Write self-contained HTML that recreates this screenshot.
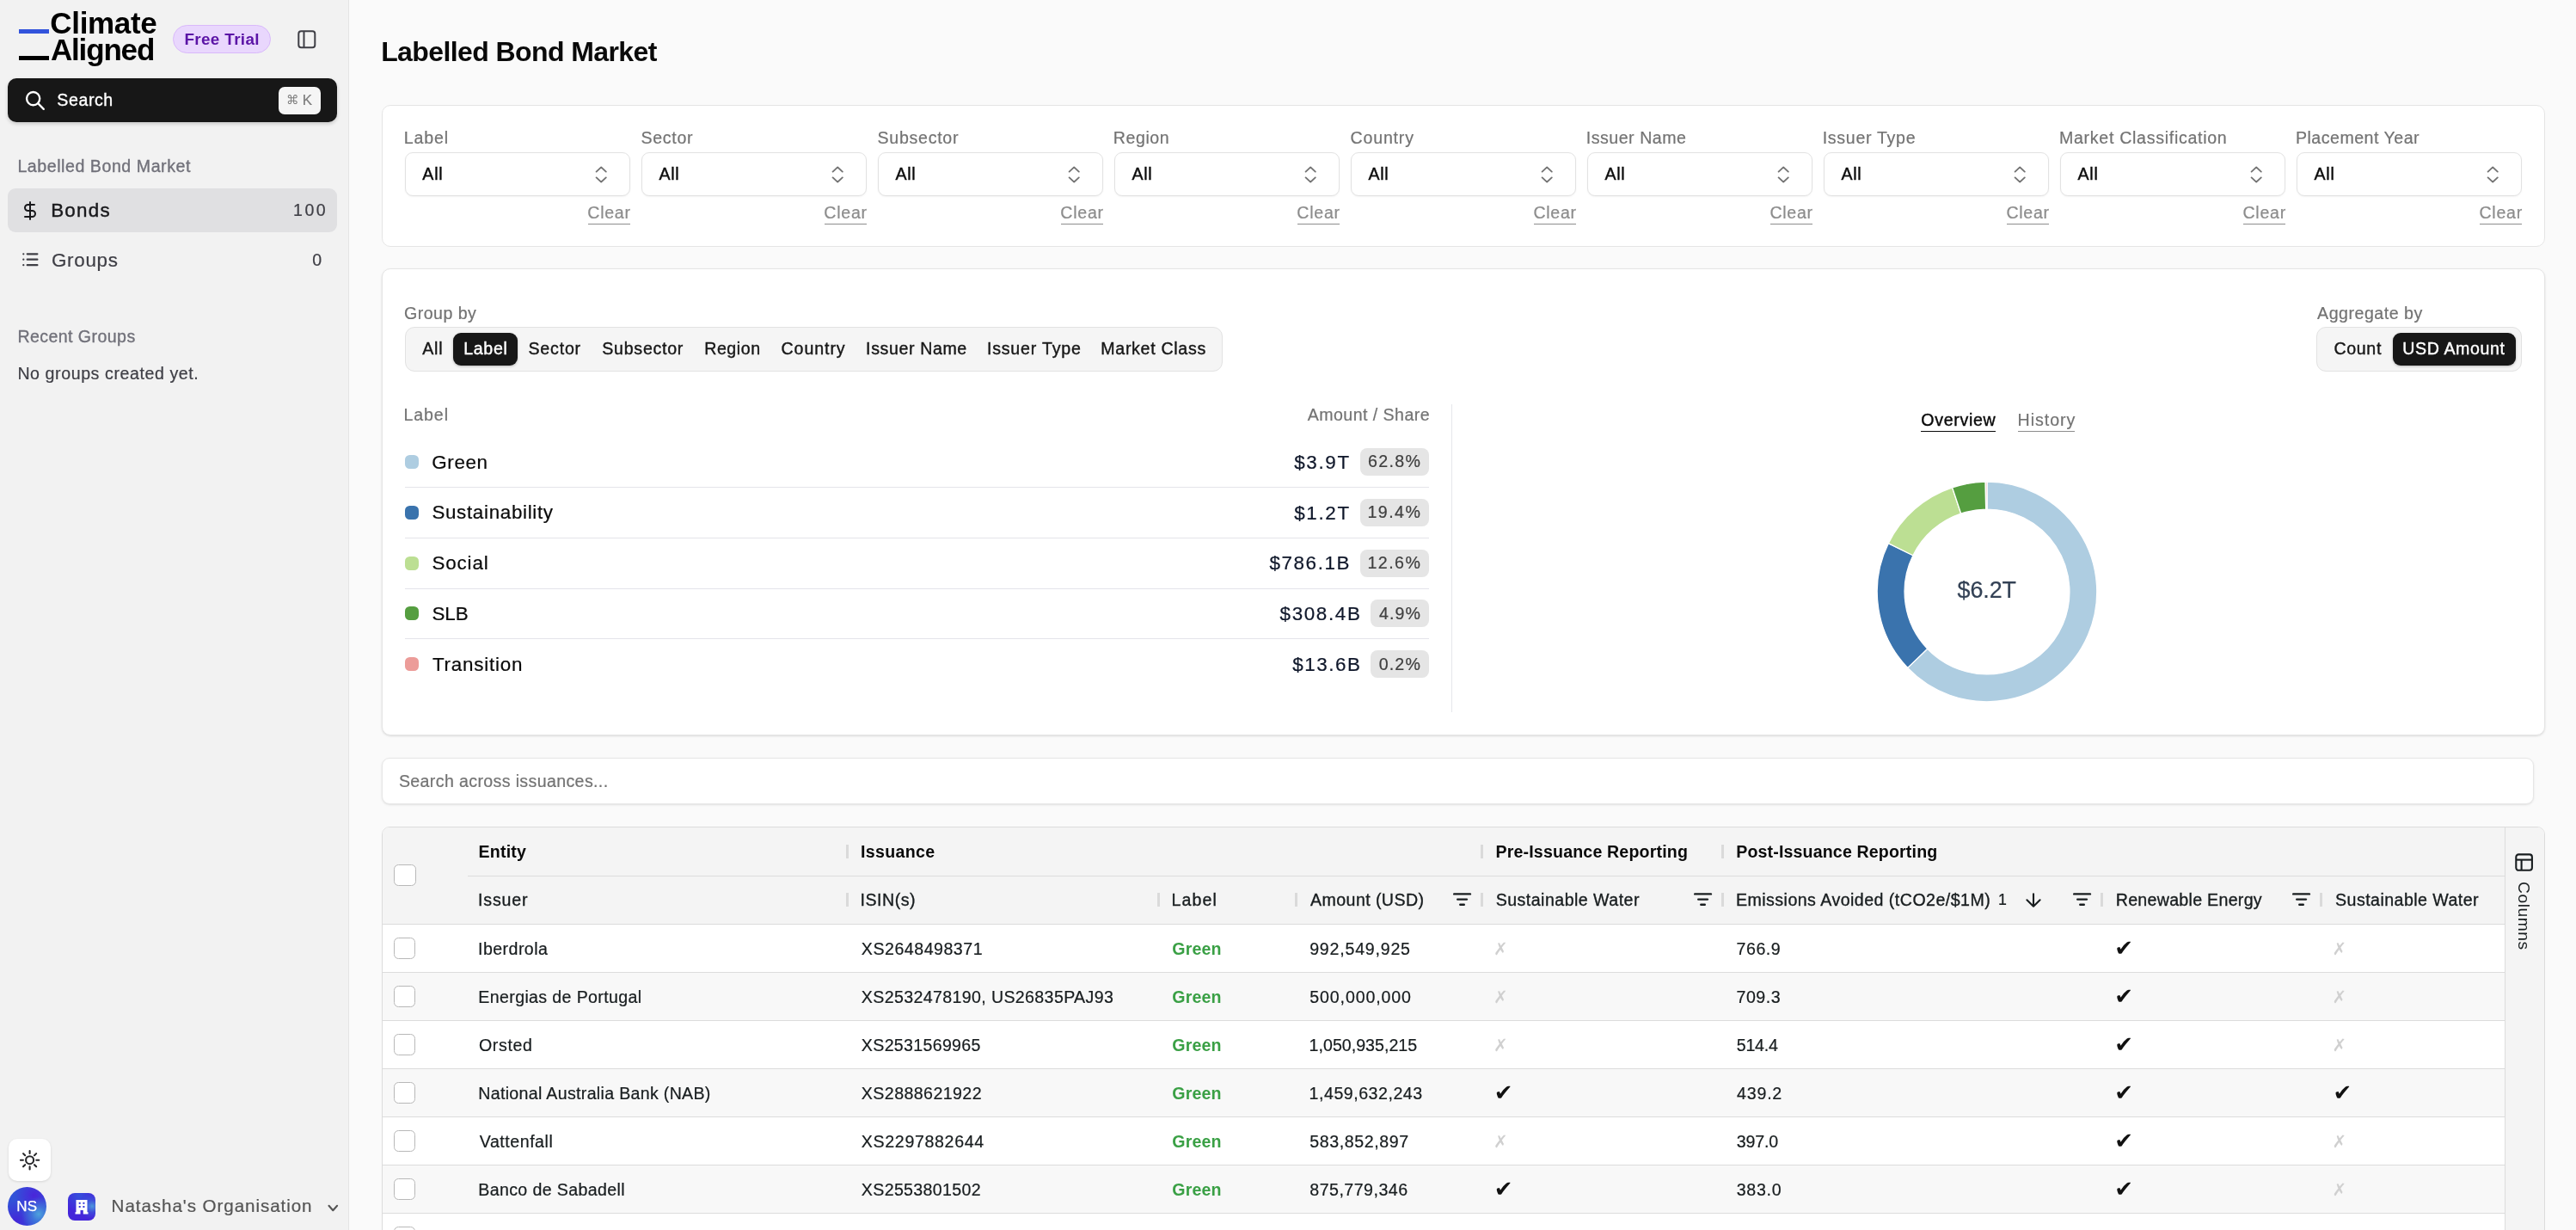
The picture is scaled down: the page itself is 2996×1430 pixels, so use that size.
<!DOCTYPE html>
<html lang="en"><head><meta charset="utf-8"><title>Labelled Bond Market</title>
<style>
html,body{margin:0;padding:0;}
html{width:2996px;height:1430px;overflow:hidden;}
body{width:2996px;height:1430px;overflow:hidden;position:relative;background:#fafafa;font-family:"Liberation Sans","DejaVu Sans",sans-serif;}
#root{position:absolute;left:0;top:0;width:2996px;height:1430px;overflow:hidden;will-change:transform;}
#root>div,#root>span,#root>svg{position:absolute;box-sizing:border-box;}
.t{white-space:nowrap;display:block;}
</style></head><body><div id="root">
<div style="left:0.00px;top:0.00px;width:405.00px;height:1430.00px;background:#f2f2f2;"></div>
<div style="left:405.00px;top:0.00px;width:1.00px;height:1430.00px;background:#e5e5e5;"></div>
<div style="left:22.00px;top:34.00px;width:35.30px;height:5.20px;background:#3354dc;"></div>
<div style="left:22.00px;top:65.00px;width:35.30px;height:5.20px;background:#000;"></div>
<span id="t0" class="t " style="left:58.36px;top:9.00px;font-size:35px;line-height:35px;color:#000;font-weight:700;letter-spacing:-0.351px;">Climate</span>
<span id="t1" class="t " style="left:58.93px;top:40.00px;font-size:35px;line-height:35px;color:#000;font-weight:700;letter-spacing:-1.158px;">Aligned</span>
<div style="left:201.00px;top:29.00px;width:114.00px;height:33.00px;border-radius:17px;background:#e9d7fd;border:1px solid #d9b9fb;"></div>
<span id="t2" class="t " style="left:214.44px;top:37.00px;font-size:18.9px;line-height:18.9px;color:#5b14a6;font-weight:700;letter-spacing:0.343px;">Free Trial</span>
<svg style="left:345px;top:34px" width="24" height="24" viewBox="0 0 24 24" fill="none" stroke="#3f3f46" stroke-width="2"><rect x="2.3" y="2.3" width="19" height="19" rx="3"/><line x1="8.5" y1="2.3" x2="8.5" y2="21.3"/></svg>
<div style="left:9.00px;top:91.00px;width:383.00px;height:51.00px;border-radius:10px;background:#171717;box-shadow:0 2px 4px rgba(0,0,0,.18);"></div>
<svg style="left:26px;top:102px" width="30" height="30" viewBox="0 0 30 30" fill="none" stroke="#fff" stroke-width="2.35" stroke-linecap="round"><circle cx="12.65" cy="12.6" r="7.6"/><line x1="18.2" y1="18.2" x2="24.8" y2="24.8"/></svg>
<span id="t3" class="t " style="left:66.31px;top:107.00px;font-size:19.6px;line-height:19.6px;color:#fff;letter-spacing:0.574px;-webkit-text-stroke:0.35px #fff;">Search</span>
<div style="left:324.00px;top:101.00px;width:49.00px;height:32.00px;border-radius:7px;background:#f5f5f5;"></div>
<span class="t" style="left:333.12px;top:109.00px;font-family:'DejaVu Sans';font-size:14.36px;line-height:14.36px;color:#7d7d7d;">⌘</span>
<span id="t4" class="t " style="left:351.81px;top:109.00px;font-size:16.9px;line-height:16.9px;color:#7d7d7d;-webkit-text-stroke:0.22px #7d7d7d;">K</span>
<span id="t5" class="t " style="left:20.39px;top:184.00px;font-size:19.6px;line-height:19.6px;color:#71717a;letter-spacing:0.549px;-webkit-text-stroke:0.35px #71717a;">Labelled Bond Market</span>
<div style="left:9.00px;top:219.00px;width:383.00px;height:51.00px;border-radius:9px;background:#e0e0e2;"></div>
<svg style="left:22.8px;top:232.6px" width="24" height="24" viewBox="0 0 24 24" fill="none" stroke="#18181b" stroke-width="2" stroke-linecap="round" stroke-linejoin="round"><line x1="12" y1="2" x2="12" y2="22"/><path d="M17 5H9.5a3.5 3.5 0 0 0 0 7h5a3.5 3.5 0 0 1 0 7H6"/></svg>
<span id="t6" class="t " style="left:59.16px;top:234.00px;font-size:22.4px;line-height:22.4px;color:#18181b;letter-spacing:1.262px;-webkit-text-stroke:0.4px #18181b;">Bonds</span>
<span id="t7" class="t " style="left:340.91px;top:235.00px;font-size:19.6px;line-height:19.6px;color:#3f3f46;letter-spacing:2.578px;-webkit-text-stroke:0.22px #3f3f46;">100</span>
<svg style="left:20px;top:288px" width="30" height="28" viewBox="0 0 30 28" fill="none" stroke="#3f3f46" stroke-width="2.2" stroke-linecap="round"><path d="M11.7 7.3H23.4M11.7 13.7H23.4M11.7 20.2H23.4M7.25 7.3h.1M7.25 13.7h.1M7.25 20.2h.1"/></svg>
<span id="t8" class="t " style="left:59.97px;top:292.00px;font-size:22.4px;line-height:22.4px;color:#3f3f46;letter-spacing:0.700px;-webkit-text-stroke:0.22px #3f3f46;">Groups</span>
<span id="t9" class="t " style="left:363.23px;top:293.00px;font-size:19.6px;line-height:19.6px;color:#3f3f46;-webkit-text-stroke:0.22px #3f3f46;">0</span>
<span id="t10" class="t " style="left:20.39px;top:382.00px;font-size:19.6px;line-height:19.6px;color:#71717a;letter-spacing:0.420px;-webkit-text-stroke:0.35px #71717a;">Recent Groups</span>
<span id="t11" class="t " style="left:20.39px;top:425.00px;font-size:19.6px;line-height:19.6px;color:#3f3f46;letter-spacing:0.579px;-webkit-text-stroke:0.22px #3f3f46;">No groups created yet.</span>
<div style="left:10.00px;top:1324.00px;width:49.00px;height:49.00px;border-radius:10px;background:#fff;box-shadow:0 1px 3px rgba(0,0,0,.12);"></div>
<svg style="left:21px;top:1335px" width="28" height="28" viewBox="0 0 28 28" fill="none" stroke="#27272a" stroke-width="2.1" stroke-linecap="round"><circle cx="13.6" cy="13.7" r="4.5"/><line x1="21.30" y1="13.70" x2="24.30" y2="13.70"/><line x1="19.04" y1="19.14" x2="21.17" y2="21.27"/><line x1="13.60" y1="21.40" x2="13.60" y2="24.40"/><line x1="8.16" y1="19.14" x2="6.03" y2="21.27"/><line x1="5.90" y1="13.70" x2="2.90" y2="13.70"/><line x1="8.16" y1="8.26" x2="6.03" y2="6.13"/><line x1="13.60" y1="6.00" x2="13.60" y2="3.00"/><line x1="19.04" y1="8.26" x2="21.17" y2="6.13"/></svg>
<div style="left:9.00px;top:1380.00px;width:45.00px;height:45.00px;border-radius:50%;background:radial-gradient(circle at 80% 70%,#4fa2dc 0%,rgba(70,140,220,.6) 18%,rgba(58,90,216,0) 42%),radial-gradient(circle at 68% 22%,#4a25da 0%,rgba(74,37,218,0) 48%),radial-gradient(circle at 22% 88%,#4427d8 0%,rgba(68,39,216,0) 45%),#3152d8;"></div>
<span id="t12" class="t " style="left:19.21px;top:1394.00px;font-size:17.0px;line-height:17.0px;color:#fff;letter-spacing:0.200px;-webkit-text-stroke:0.25px #fff;">NS</span>
<div style="left:79.00px;top:1387.00px;width:32.00px;height:32.00px;border-radius:8px;background:radial-gradient(circle at 88% 48%,#4c98dc 0%,rgba(60,110,220,.5) 22%,rgba(58,80,216,0) 45%),radial-gradient(circle at 40% 10%,#3550dc 0%,rgba(53,80,220,0) 55%),#4425da;"></div>
<svg style="left:86px;top:1393px" width="18" height="20" viewBox="0 0 18 20"><path fill="#fff" d="M2.5 2h13v14.2h1v2.2h-5.7v-4.4H7.5v4.4H1.5v-2.2h1z"/><g fill="#3a3adb"><rect x="5.7" y="4.8" width="2" height="2"/><rect x="10.4" y="4.8" width="2" height="2"/><rect x="5.7" y="9" width="2" height="2"/><rect x="10.4" y="9" width="2" height="2"/></g></svg>
<span id="t13" class="t " style="left:129.61px;top:1392.00px;font-size:20.6px;line-height:20.6px;color:#555;letter-spacing:0.929px;-webkit-text-stroke:0.22px #555;">Natasha&#x27;s Organisation</span>
<svg style="left:379.5px;top:1398.5px" width="15" height="12" viewBox="0 0 15 12" fill="none" stroke="#555" stroke-width="2.1" stroke-linecap="round" stroke-linejoin="round"><path d="M2.5 2.8 L7.3 8.2 L12.1 2.8"/></svg>
<span id="t14" class="t " style="left:443.16px;top:44.00px;font-size:32px;line-height:32px;color:#0a0a0a;font-weight:700;letter-spacing:-0.593px;">Labelled Bond Market</span>
<div style="left:444.00px;top:122.00px;width:2516.00px;height:165.00px;border-radius:10px;border:1px solid #e5e5e5;background:#fff;"></div>
<span id="t15" class="t " style="left:469.79px;top:151.00px;font-size:19.6px;line-height:19.6px;color:#737373;letter-spacing:0.841px;-webkit-text-stroke:0.22px #737373;">Label</span>
<div style="left:471.30px;top:177.00px;width:261.50px;height:51.00px;border-radius:9px;border:1px solid #e2e2e2;background:#fff;box-shadow:0 1px 2px rgba(0,0,0,.05);"></div>
<span id="t16" class="t " style="left:491.36px;top:193.00px;font-size:19.6px;line-height:19.6px;color:#0a0a0a;letter-spacing:0.734px;-webkit-text-stroke:0.4px #0a0a0a;">All</span>
<svg style="left:689.30px;top:190px" width="20" height="26" viewBox="0 0 20 26" fill="none" stroke="#737373" stroke-width="1.9" stroke-linecap="round" stroke-linejoin="round"><path d="M4.6 9.6 L10.2 4.4 L15.8 9.6"/><path d="M4.6 16.4 L10.2 21.6 L15.8 16.4"/></svg>
<span id="t17" class="t " style="left:683.30px;top:238.00px;font-size:19.6px;line-height:19.6px;color:#8c8c8c;letter-spacing:0.723px;-webkit-text-stroke:0.22px #8c8c8c;">Clear</span>
<div style="left:684.10px;top:259.60px;width:48.80px;height:1.40px;background:#8c8c8c;"></div>
<span id="t18" class="t " style="left:745.53px;top:151.00px;font-size:19.6px;line-height:19.6px;color:#737373;letter-spacing:0.671px;-webkit-text-stroke:0.22px #737373;">Sector</span>
<div style="left:746.32px;top:177.00px;width:261.50px;height:51.00px;border-radius:9px;border:1px solid #e2e2e2;background:#fff;box-shadow:0 1px 2px rgba(0,0,0,.05);"></div>
<span id="t19" class="t " style="left:766.38px;top:193.00px;font-size:19.6px;line-height:19.6px;color:#0a0a0a;letter-spacing:0.734px;-webkit-text-stroke:0.4px #0a0a0a;">All</span>
<svg style="left:964.32px;top:190px" width="20" height="26" viewBox="0 0 20 26" fill="none" stroke="#737373" stroke-width="1.9" stroke-linecap="round" stroke-linejoin="round"><path d="M4.6 9.6 L10.2 4.4 L15.8 9.6"/><path d="M4.6 16.4 L10.2 21.6 L15.8 16.4"/></svg>
<span id="t20" class="t " style="left:958.32px;top:238.00px;font-size:19.6px;line-height:19.6px;color:#8c8c8c;letter-spacing:0.723px;-webkit-text-stroke:0.22px #8c8c8c;">Clear</span>
<div style="left:959.12px;top:259.60px;width:48.80px;height:1.40px;background:#8c8c8c;"></div>
<span id="t21" class="t " style="left:1020.55px;top:151.00px;font-size:19.6px;line-height:19.6px;color:#737373;letter-spacing:0.705px;-webkit-text-stroke:0.22px #737373;">Subsector</span>
<div style="left:1021.34px;top:177.00px;width:261.50px;height:51.00px;border-radius:9px;border:1px solid #e2e2e2;background:#fff;box-shadow:0 1px 2px rgba(0,0,0,.05);"></div>
<span id="t22" class="t " style="left:1041.40px;top:193.00px;font-size:19.6px;line-height:19.6px;color:#0a0a0a;letter-spacing:0.734px;-webkit-text-stroke:0.4px #0a0a0a;">All</span>
<svg style="left:1239.34px;top:190px" width="20" height="26" viewBox="0 0 20 26" fill="none" stroke="#737373" stroke-width="1.9" stroke-linecap="round" stroke-linejoin="round"><path d="M4.6 9.6 L10.2 4.4 L15.8 9.6"/><path d="M4.6 16.4 L10.2 21.6 L15.8 16.4"/></svg>
<span id="t23" class="t " style="left:1233.34px;top:238.00px;font-size:19.6px;line-height:19.6px;color:#8c8c8c;letter-spacing:0.723px;-webkit-text-stroke:0.22px #8c8c8c;">Clear</span>
<div style="left:1234.14px;top:259.60px;width:48.80px;height:1.40px;background:#8c8c8c;"></div>
<span id="t24" class="t " style="left:1294.85px;top:151.00px;font-size:19.6px;line-height:19.6px;color:#737373;letter-spacing:0.545px;-webkit-text-stroke:0.22px #737373;">Region</span>
<div style="left:1296.36px;top:177.00px;width:261.50px;height:51.00px;border-radius:9px;border:1px solid #e2e2e2;background:#fff;box-shadow:0 1px 2px rgba(0,0,0,.05);"></div>
<span id="t25" class="t " style="left:1316.42px;top:193.00px;font-size:19.6px;line-height:19.6px;color:#0a0a0a;letter-spacing:0.734px;-webkit-text-stroke:0.4px #0a0a0a;">All</span>
<svg style="left:1514.36px;top:190px" width="20" height="26" viewBox="0 0 20 26" fill="none" stroke="#737373" stroke-width="1.9" stroke-linecap="round" stroke-linejoin="round"><path d="M4.6 9.6 L10.2 4.4 L15.8 9.6"/><path d="M4.6 16.4 L10.2 21.6 L15.8 16.4"/></svg>
<span id="t26" class="t " style="left:1508.36px;top:238.00px;font-size:19.6px;line-height:19.6px;color:#8c8c8c;letter-spacing:0.723px;-webkit-text-stroke:0.22px #8c8c8c;">Clear</span>
<div style="left:1509.16px;top:259.60px;width:48.80px;height:1.40px;background:#8c8c8c;"></div>
<span id="t27" class="t " style="left:1570.48px;top:151.00px;font-size:19.6px;line-height:19.6px;color:#737373;letter-spacing:0.824px;-webkit-text-stroke:0.22px #737373;">Country</span>
<div style="left:1571.38px;top:177.00px;width:261.50px;height:51.00px;border-radius:9px;border:1px solid #e2e2e2;background:#fff;box-shadow:0 1px 2px rgba(0,0,0,.05);"></div>
<span id="t28" class="t " style="left:1591.44px;top:193.00px;font-size:19.6px;line-height:19.6px;color:#0a0a0a;letter-spacing:0.734px;-webkit-text-stroke:0.4px #0a0a0a;">All</span>
<svg style="left:1789.38px;top:190px" width="20" height="26" viewBox="0 0 20 26" fill="none" stroke="#737373" stroke-width="1.9" stroke-linecap="round" stroke-linejoin="round"><path d="M4.6 9.6 L10.2 4.4 L15.8 9.6"/><path d="M4.6 16.4 L10.2 21.6 L15.8 16.4"/></svg>
<span id="t29" class="t " style="left:1783.38px;top:238.00px;font-size:19.6px;line-height:19.6px;color:#8c8c8c;letter-spacing:0.723px;-webkit-text-stroke:0.22px #8c8c8c;">Clear</span>
<div style="left:1784.18px;top:259.60px;width:48.80px;height:1.40px;background:#8c8c8c;"></div>
<span id="t30" class="t " style="left:1844.69px;top:151.00px;font-size:19.6px;line-height:19.6px;color:#737373;letter-spacing:0.520px;-webkit-text-stroke:0.22px #737373;">Issuer Name</span>
<div style="left:1846.40px;top:177.00px;width:261.50px;height:51.00px;border-radius:9px;border:1px solid #e2e2e2;background:#fff;box-shadow:0 1px 2px rgba(0,0,0,.05);"></div>
<span id="t31" class="t " style="left:1866.46px;top:193.00px;font-size:19.6px;line-height:19.6px;color:#0a0a0a;letter-spacing:0.734px;-webkit-text-stroke:0.4px #0a0a0a;">All</span>
<svg style="left:2064.40px;top:190px" width="20" height="26" viewBox="0 0 20 26" fill="none" stroke="#737373" stroke-width="1.9" stroke-linecap="round" stroke-linejoin="round"><path d="M4.6 9.6 L10.2 4.4 L15.8 9.6"/><path d="M4.6 16.4 L10.2 21.6 L15.8 16.4"/></svg>
<span id="t32" class="t " style="left:2058.40px;top:238.00px;font-size:19.6px;line-height:19.6px;color:#8c8c8c;letter-spacing:0.723px;-webkit-text-stroke:0.22px #8c8c8c;">Clear</span>
<div style="left:2059.20px;top:259.60px;width:48.80px;height:1.40px;background:#8c8c8c;"></div>
<span id="t33" class="t " style="left:2119.71px;top:151.00px;font-size:19.6px;line-height:19.6px;color:#737373;letter-spacing:0.692px;-webkit-text-stroke:0.22px #737373;">Issuer Type</span>
<div style="left:2121.42px;top:177.00px;width:261.50px;height:51.00px;border-radius:9px;border:1px solid #e2e2e2;background:#fff;box-shadow:0 1px 2px rgba(0,0,0,.05);"></div>
<span id="t34" class="t " style="left:2141.48px;top:193.00px;font-size:19.6px;line-height:19.6px;color:#0a0a0a;letter-spacing:0.734px;-webkit-text-stroke:0.4px #0a0a0a;">All</span>
<svg style="left:2339.42px;top:190px" width="20" height="26" viewBox="0 0 20 26" fill="none" stroke="#737373" stroke-width="1.9" stroke-linecap="round" stroke-linejoin="round"><path d="M4.6 9.6 L10.2 4.4 L15.8 9.6"/><path d="M4.6 16.4 L10.2 21.6 L15.8 16.4"/></svg>
<span id="t35" class="t " style="left:2333.42px;top:238.00px;font-size:19.6px;line-height:19.6px;color:#8c8c8c;letter-spacing:0.723px;-webkit-text-stroke:0.22px #8c8c8c;">Clear</span>
<div style="left:2334.22px;top:259.60px;width:48.80px;height:1.40px;background:#8c8c8c;"></div>
<span id="t36" class="t " style="left:2394.93px;top:151.00px;font-size:19.6px;line-height:19.6px;color:#737373;letter-spacing:0.704px;-webkit-text-stroke:0.22px #737373;">Market Classification</span>
<div style="left:2396.44px;top:177.00px;width:261.50px;height:51.00px;border-radius:9px;border:1px solid #e2e2e2;background:#fff;box-shadow:0 1px 2px rgba(0,0,0,.05);"></div>
<span id="t37" class="t " style="left:2416.50px;top:193.00px;font-size:19.6px;line-height:19.6px;color:#0a0a0a;letter-spacing:0.734px;-webkit-text-stroke:0.4px #0a0a0a;">All</span>
<svg style="left:2614.44px;top:190px" width="20" height="26" viewBox="0 0 20 26" fill="none" stroke="#737373" stroke-width="1.9" stroke-linecap="round" stroke-linejoin="round"><path d="M4.6 9.6 L10.2 4.4 L15.8 9.6"/><path d="M4.6 16.4 L10.2 21.6 L15.8 16.4"/></svg>
<span id="t38" class="t " style="left:2608.44px;top:238.00px;font-size:19.6px;line-height:19.6px;color:#8c8c8c;letter-spacing:0.723px;-webkit-text-stroke:0.22px #8c8c8c;">Clear</span>
<div style="left:2609.24px;top:259.60px;width:48.80px;height:1.40px;background:#8c8c8c;"></div>
<span id="t39" class="t " style="left:2669.95px;top:151.00px;font-size:19.6px;line-height:19.6px;color:#737373;letter-spacing:0.493px;-webkit-text-stroke:0.22px #737373;">Placement Year</span>
<div style="left:2671.46px;top:177.00px;width:261.50px;height:51.00px;border-radius:9px;border:1px solid #e2e2e2;background:#fff;box-shadow:0 1px 2px rgba(0,0,0,.05);"></div>
<span id="t40" class="t " style="left:2691.52px;top:193.00px;font-size:19.6px;line-height:19.6px;color:#0a0a0a;letter-spacing:0.734px;-webkit-text-stroke:0.4px #0a0a0a;">All</span>
<svg style="left:2889.46px;top:190px" width="20" height="26" viewBox="0 0 20 26" fill="none" stroke="#737373" stroke-width="1.9" stroke-linecap="round" stroke-linejoin="round"><path d="M4.6 9.6 L10.2 4.4 L15.8 9.6"/><path d="M4.6 16.4 L10.2 21.6 L15.8 16.4"/></svg>
<span id="t41" class="t " style="left:2883.46px;top:238.00px;font-size:19.6px;line-height:19.6px;color:#8c8c8c;letter-spacing:0.723px;-webkit-text-stroke:0.22px #8c8c8c;">Clear</span>
<div style="left:2884.26px;top:259.60px;width:48.80px;height:1.40px;background:#8c8c8c;"></div>
<div style="left:444.00px;top:312.00px;width:2516.00px;height:542.60px;border-radius:10px;border:1px solid #e5e5e5;background:#fff;box-shadow:0 1px 3px rgba(0,0,0,.09),0 1px 2px rgba(0,0,0,.05);"></div>
<span id="t42" class="t " style="left:470.01px;top:355.00px;font-size:19.6px;line-height:19.6px;color:#737373;letter-spacing:0.459px;-webkit-text-stroke:0.22px #737373;">Group by</span>
<div style="left:471.00px;top:380.00px;width:951.00px;height:52.00px;border-radius:11px;border:1px solid #e2e2e2;background:#f5f5f5;"></div>
<div style="left:527.00px;top:387.00px;width:75.00px;height:38.00px;border-radius:9px;background:#171717;box-shadow:0 1px 3px rgba(0,0,0,.25);"></div>
<span id="t43" class="t " style="left:491.36px;top:396.00px;font-size:19.6px;line-height:19.6px;color:#171717;letter-spacing:0.684px;-webkit-text-stroke:0.4px #171717;">All</span>
<span id="t44" class="t " style="left:539.19px;top:396.00px;font-size:19.6px;line-height:19.6px;color:#fff;letter-spacing:0.691px;-webkit-text-stroke:0.4px #fff;">Label</span>
<span id="t45" class="t " style="left:614.51px;top:396.00px;font-size:19.6px;line-height:19.6px;color:#171717;letter-spacing:0.795px;-webkit-text-stroke:0.4px #171717;">Sector</span>
<span id="t46" class="t " style="left:700.31px;top:396.00px;font-size:19.6px;line-height:19.6px;color:#171717;letter-spacing:0.735px;-webkit-text-stroke:0.4px #171717;">Subsector</span>
<span id="t47" class="t " style="left:819.19px;top:396.00px;font-size:19.6px;line-height:19.6px;color:#171717;letter-spacing:0.557px;-webkit-text-stroke:0.4px #171717;">Region</span>
<span id="t48" class="t " style="left:908.50px;top:396.00px;font-size:19.6px;line-height:19.6px;color:#171717;letter-spacing:0.921px;-webkit-text-stroke:0.4px #171717;">Country</span>
<span id="t49" class="t " style="left:1007.09px;top:396.00px;font-size:19.6px;line-height:19.6px;color:#171717;letter-spacing:0.610px;-webkit-text-stroke:0.4px #171717;">Issuer Name</span>
<span id="t50" class="t " style="left:1147.89px;top:396.00px;font-size:19.6px;line-height:19.6px;color:#171717;letter-spacing:0.814px;-webkit-text-stroke:0.4px #171717;">Issuer Type</span>
<span id="t51" class="t " style="left:1280.29px;top:396.00px;font-size:19.6px;line-height:19.6px;color:#171717;letter-spacing:0.690px;-webkit-text-stroke:0.4px #171717;">Market Class</span>
<span id="t52" class="t " style="left:2695.06px;top:355.00px;font-size:19.6px;line-height:19.6px;color:#737373;letter-spacing:0.510px;-webkit-text-stroke:0.22px #737373;">Aggregate by</span>
<div style="left:2694.00px;top:380.00px;width:238.80px;height:52.00px;border-radius:11px;border:1px solid #e2e2e2;background:#f5f5f5;"></div>
<div style="left:2783.00px;top:387.00px;width:142.50px;height:38.00px;border-radius:9px;background:#171717;box-shadow:0 1px 3px rgba(0,0,0,.25);"></div>
<span id="t53" class="t " style="left:2714.60px;top:396.00px;font-size:19.6px;line-height:19.6px;color:#171717;letter-spacing:0.610px;-webkit-text-stroke:0.4px #171717;">Count</span>
<span id="t54" class="t " style="left:2794.29px;top:396.00px;font-size:19.6px;line-height:19.6px;color:#fff;letter-spacing:0.599px;-webkit-text-stroke:0.4px #fff;">USD Amount</span>
<span id="t55" class="t " style="left:469.39px;top:473.00px;font-size:19.6px;line-height:19.6px;color:#737373;letter-spacing:0.916px;-webkit-text-stroke:0.22px #737373;">Label</span>
<span id="t56" class="t " style="left:1520.66px;top:473.00px;font-size:19.6px;line-height:19.6px;color:#737373;letter-spacing:0.450px;-webkit-text-stroke:0.22px #737373;">Amount / Share</span>
<div style="left:1688.00px;top:470.00px;width:1.00px;height:357.50px;background:#e5e7eb;"></div>
<div style="left:471.00px;top:529.00px;width:16.00px;height:16.00px;border-radius:5.5px;background:#aecde1;"></div>
<span id="t57" class="t " style="left:502.27px;top:527.00px;font-size:22.4px;line-height:22.4px;color:#0a0a0a;letter-spacing:0.637px;-webkit-text-stroke:0.22px #0a0a0a;">Green</span>
<span id="t58" class="t " style="left:1505.26px;top:527.00px;font-size:22.4px;line-height:22.4px;color:#0f172a;letter-spacing:1.647px;-webkit-text-stroke:0.22px #0f172a;">$3.9T</span>
<div style="left:1582.00px;top:521.00px;width:79.80px;height:32.00px;border-radius:8px;background:#e5e5e5;"></div>
<span id="t59" class="t " style="left:1590.90px;top:527.00px;font-size:19.6px;line-height:19.6px;color:#404040;letter-spacing:1.358px;-webkit-text-stroke:0.22px #404040;">62.8%</span>
<div style="left:471.00px;top:566.00px;width:1190.80px;height:1.00px;background:#e4e4ea;"></div>
<div style="left:471.00px;top:587.83px;width:16.00px;height:16.00px;border-radius:5.5px;background:#3a73ad;"></div>
<span id="t60" class="t " style="left:502.38px;top:585.00px;font-size:22.4px;line-height:22.4px;color:#0a0a0a;letter-spacing:0.671px;-webkit-text-stroke:0.22px #0a0a0a;">Sustainability</span>
<span id="t61" class="t " style="left:1505.26px;top:586.00px;font-size:22.4px;line-height:22.4px;color:#0f172a;letter-spacing:1.647px;-webkit-text-stroke:0.22px #0f172a;">$1.2T</span>
<div style="left:1582.00px;top:579.83px;width:79.80px;height:32.00px;border-radius:8px;background:#e5e5e5;"></div>
<span id="t62" class="t " style="left:1590.41px;top:586.00px;font-size:19.6px;line-height:19.6px;color:#404040;letter-spacing:1.482px;-webkit-text-stroke:0.22px #404040;">19.4%</span>
<div style="left:471.00px;top:624.83px;width:1190.80px;height:1.00px;background:#e4e4ea;"></div>
<div style="left:471.00px;top:646.66px;width:16.00px;height:16.00px;border-radius:5.5px;background:#bcdf93;"></div>
<span id="t63" class="t " style="left:502.38px;top:644.00px;font-size:22.4px;line-height:22.4px;color:#0a0a0a;letter-spacing:0.886px;-webkit-text-stroke:0.22px #0a0a0a;">Social</span>
<span id="t64" class="t " style="left:1476.46px;top:644.00px;font-size:22.4px;line-height:22.4px;color:#0f172a;letter-spacing:1.600px;-webkit-text-stroke:0.22px #0f172a;">$786.1B</span>
<div style="left:1582.00px;top:638.66px;width:79.80px;height:32.00px;border-radius:8px;background:#e5e5e5;"></div>
<span id="t65" class="t " style="left:1590.41px;top:645.00px;font-size:19.6px;line-height:19.6px;color:#404040;letter-spacing:1.482px;-webkit-text-stroke:0.22px #404040;">12.6%</span>
<div style="left:471.00px;top:683.66px;width:1190.80px;height:1.00px;background:#e4e4ea;"></div>
<div style="left:471.00px;top:705.49px;width:16.00px;height:16.00px;border-radius:5.5px;background:#559e40;"></div>
<span id="t66" class="t " style="left:502.38px;top:703.00px;font-size:22.4px;line-height:22.4px;color:#0a0a0a;letter-spacing:0.035px;-webkit-text-stroke:0.22px #0a0a0a;">SLB</span>
<span id="t67" class="t " style="left:1488.56px;top:703.00px;font-size:22.4px;line-height:22.4px;color:#0f172a;letter-spacing:1.650px;-webkit-text-stroke:0.22px #0f172a;">$308.4B</span>
<div style="left:1594.30px;top:697.49px;width:67.50px;height:32.00px;border-radius:8px;background:#e5e5e5;"></div>
<span id="t68" class="t " style="left:1603.95px;top:704.00px;font-size:19.6px;line-height:19.6px;color:#404040;letter-spacing:1.092px;-webkit-text-stroke:0.22px #404040;">4.9%</span>
<div style="left:471.00px;top:742.49px;width:1190.80px;height:1.00px;background:#e4e4ea;"></div>
<div style="left:471.00px;top:764.32px;width:16.00px;height:16.00px;border-radius:5.5px;background:#ec9c99;"></div>
<span id="t69" class="t " style="left:502.90px;top:762.00px;font-size:22.4px;line-height:22.4px;color:#0a0a0a;letter-spacing:0.797px;-webkit-text-stroke:0.22px #0a0a0a;">Transition</span>
<span id="t70" class="t " style="left:1503.16px;top:762.00px;font-size:22.4px;line-height:22.4px;color:#0f172a;letter-spacing:1.551px;-webkit-text-stroke:0.22px #0f172a;">$13.6B</span>
<div style="left:1594.30px;top:756.32px;width:67.50px;height:32.00px;border-radius:8px;background:#e5e5e5;"></div>
<span id="t71" class="t " style="left:1603.63px;top:763.00px;font-size:19.6px;line-height:19.6px;color:#404040;letter-spacing:1.197px;-webkit-text-stroke:0.22px #404040;">0.2%</span>
<span id="t72" class="t " style="left:2234.27px;top:479.00px;font-size:19.6px;line-height:19.6px;color:#0a0a0a;letter-spacing:0.673px;-webkit-text-stroke:0.4px #0a0a0a;">Overview</span>
<div style="left:2234.30px;top:501.00px;width:87.00px;height:1.40px;background:#0a0a0a;"></div>
<span id="t73" class="t " style="left:2346.59px;top:479.00px;font-size:19.6px;line-height:19.6px;color:#737373;letter-spacing:0.963px;-webkit-text-stroke:0.22px #737373;">History</span>
<div style="left:2347.30px;top:501.00px;width:66.20px;height:1.40px;background:#8c8c8c;"></div>
<svg style="left:2161px;top:537.7px" width="300" height="300" viewBox="0 0 300 300"><path d="M150.00 22.20A127.8 127.8 0 1 1 57.66 238.36L80.71 216.30A95.9 95.9 0 1 0 150.00 54.10Z" fill="#aecde1" stroke="#fff" stroke-width="1.3"/><path d="M57.66 238.36A127.8 127.8 0 0 1 35.29 93.66L63.92 107.72A95.9 95.9 0 0 0 80.71 216.30Z" fill="#3a73ad" stroke="#fff" stroke-width="1.3"/><path d="M35.29 93.66A127.8 127.8 0 0 1 109.56 28.77L119.66 59.03A95.9 95.9 0 0 0 63.92 107.72Z" fill="#bcdf93" stroke="#fff" stroke-width="1.3"/><path d="M109.56 28.77A127.8 127.8 0 0 1 148.23 22.21L148.67 54.11A95.9 95.9 0 0 0 119.66 59.03Z" fill="#559e40" stroke="#fff" stroke-width="1.3"/><path d="M148.23 22.21A127.8 127.8 0 0 1 150.00 22.20L150.00 54.10A95.9 95.9 0 0 0 148.67 54.11Z" fill="#ec9c99" stroke="#fff" stroke-width="1.3"/></svg>
<span id="t74" class="t " style="left:2276.61px;top:673.00px;font-size:26.9px;line-height:26.9px;color:#334155;letter-spacing:-0.090px;-webkit-text-stroke:0.22px #334155;">$6.2T</span>
<div style="left:444.00px;top:881.00px;width:2502.50px;height:54.00px;border-radius:9px;border:1px solid #e6e6e6;background:#fff;box-shadow:0 1px 3px rgba(0,0,0,.08),0 1px 2px rgba(0,0,0,.04);"></div>
<span id="t75" class="t " style="left:463.91px;top:899.00px;font-size:19.6px;line-height:19.6px;color:#737373;letter-spacing:0.362px;-webkit-text-stroke:0.22px #737373;">Search across issuances...</span>
<div style="left:444.00px;top:961.00px;width:2516.00px;height:500.00px;border-radius:9px 9px 0 0;border:1px solid #dcdcdc;background:#fff;overflow:hidden;"></div>
<div style="left:445.00px;top:962.00px;width:2468.00px;height:112.50px;background:#f4f4f4;border-top-left-radius:8px;"></div>
<div style="left:2913.00px;top:962.00px;width:46.00px;height:480.00px;background:#f4f4f4;border-left:1px solid #dcdcdc;border-top-right-radius:8px;"></div>
<div style="left:544.00px;top:1018.00px;width:2369.00px;height:1.00px;background:#dcdcdc;"></div>
<div style="left:445.00px;top:1074.00px;width:2468.00px;height:1.00px;background:#dcdcdc;"></div>
<span id="t76" class="t " style="left:556.59px;top:981.00px;font-size:19.6px;line-height:19.6px;color:#0a0a0a;font-weight:700;letter-spacing:0.176px;">Entity</span>
<span id="t77" class="t " style="left:1000.99px;top:981.00px;font-size:19.6px;line-height:19.6px;color:#0a0a0a;font-weight:700;letter-spacing:0.344px;">Issuance</span>
<span id="t78" class="t " style="left:1739.49px;top:981.00px;font-size:19.6px;line-height:19.6px;color:#0a0a0a;font-weight:700;letter-spacing:0.165px;">Pre-Issuance Reporting</span>
<span id="t79" class="t " style="left:2019.19px;top:981.00px;font-size:19.6px;line-height:19.6px;color:#0a0a0a;font-weight:700;letter-spacing:0.146px;">Post-Issuance Reporting</span>
<span id="t80" class="t " style="left:556.09px;top:1037.00px;font-size:19.6px;line-height:19.6px;color:#181d1f;letter-spacing:0.815px;-webkit-text-stroke:0.35px #181d1f;">Issuer</span>
<span id="t81" class="t " style="left:1000.49px;top:1037.00px;font-size:19.6px;line-height:19.6px;color:#181d1f;letter-spacing:0.529px;-webkit-text-stroke:0.35px #181d1f;">ISIN(s)</span>
<span id="t82" class="t " style="left:1362.49px;top:1037.00px;font-size:19.6px;line-height:19.6px;color:#181d1f;letter-spacing:1.116px;-webkit-text-stroke:0.35px #181d1f;">Label</span>
<span id="t83" class="t " style="left:1524.06px;top:1037.00px;font-size:19.6px;line-height:19.6px;color:#181d1f;letter-spacing:0.415px;-webkit-text-stroke:0.35px #181d1f;">Amount (USD)</span>
<span id="t84" class="t " style="left:1739.71px;top:1037.00px;font-size:19.6px;line-height:19.6px;color:#181d1f;letter-spacing:0.459px;-webkit-text-stroke:0.35px #181d1f;">Sustainable Water</span>
<span id="t85" class="t " style="left:2018.89px;top:1037.00px;font-size:19.6px;line-height:19.6px;color:#181d1f;letter-spacing:0.469px;-webkit-text-stroke:0.35px #181d1f;">Emissions Avoided (tCO2e/$1M)</span>
<span id="t86" class="t " style="left:2460.69px;top:1037.00px;font-size:19.6px;line-height:19.6px;color:#181d1f;letter-spacing:0.292px;-webkit-text-stroke:0.35px #181d1f;">Renewable Energy</span>
<span id="t87" class="t " style="left:2716.11px;top:1037.00px;font-size:19.6px;line-height:19.6px;color:#181d1f;letter-spacing:0.446px;-webkit-text-stroke:0.35px #181d1f;">Sustainable Water</span>
<span id="t88" class="t " style="left:2323.94px;top:1038.00px;font-size:17.8px;line-height:17.8px;color:#181d1f;-webkit-text-stroke:0.22px #181d1f;">1</span>
<div style="left:984.00px;top:982.00px;width:2.90px;height:15.50px;background:#dadada;"></div>
<div style="left:1722.00px;top:982.00px;width:2.90px;height:15.50px;background:#dadada;"></div>
<div style="left:2002.00px;top:982.00px;width:2.90px;height:15.50px;background:#dadada;"></div>
<div style="left:984.00px;top:1038.20px;width:2.90px;height:15.50px;background:#dadada;"></div>
<div style="left:1346.00px;top:1038.20px;width:2.90px;height:15.50px;background:#dadada;"></div>
<div style="left:1506.20px;top:1038.20px;width:2.90px;height:15.50px;background:#dadada;"></div>
<div style="left:1722.00px;top:1038.20px;width:2.90px;height:15.50px;background:#dadada;"></div>
<div style="left:2002.00px;top:1038.20px;width:2.90px;height:15.50px;background:#dadada;"></div>
<div style="left:2443.30px;top:1038.20px;width:2.90px;height:15.50px;background:#dadada;"></div>
<div style="left:2698.00px;top:1038.20px;width:2.90px;height:15.50px;background:#dadada;"></div>
<svg style="left:1689.7px;top:1037px" width="22" height="17" viewBox="0 0 22 17" fill="#181d1f"><rect x="0" y="1.2" width="21.1" height="2.4" rx="1.2"/><rect x="4" y="7.4" width="13.1" height="2.4" rx="1.2"/><rect x="7.1" y="13.6" width="6.9" height="2.4" rx="1.2"/></svg>
<svg style="left:1970.2px;top:1037px" width="22" height="17" viewBox="0 0 22 17" fill="#181d1f"><rect x="0" y="1.2" width="21.1" height="2.4" rx="1.2"/><rect x="4" y="7.4" width="13.1" height="2.4" rx="1.2"/><rect x="7.1" y="13.6" width="6.9" height="2.4" rx="1.2"/></svg>
<svg style="left:2411.3px;top:1037px" width="22" height="17" viewBox="0 0 22 17" fill="#181d1f"><rect x="0" y="1.2" width="21.1" height="2.4" rx="1.2"/><rect x="4" y="7.4" width="13.1" height="2.4" rx="1.2"/><rect x="7.1" y="13.6" width="6.9" height="2.4" rx="1.2"/></svg>
<svg style="left:2666px;top:1037px" width="22" height="17" viewBox="0 0 22 17" fill="#181d1f"><rect x="0" y="1.2" width="21.1" height="2.4" rx="1.2"/><rect x="4" y="7.4" width="13.1" height="2.4" rx="1.2"/><rect x="7.1" y="13.6" width="6.9" height="2.4" rx="1.2"/></svg>
<svg style="left:2353.5px;top:1035.5px" width="22" height="21" viewBox="0 0 22 21" fill="none" stroke="#181d1f" stroke-width="2.1" stroke-linecap="round" stroke-linejoin="round"><path d="M11 3.2V17.5M3.4 10.3 L11 17.7 L18.6 10.3"/></svg>
<div style="left:458.30px;top:1005.20px;width:25.30px;height:24.80px;border-radius:5.5px;border:1.3px solid #b8b8b8;background:#fff;"></div>
<svg style="left:2924px;top:991px" width="24" height="24" viewBox="0 0 24 24" fill="none" stroke="#181d1f" stroke-width="2.1" stroke-linejoin="round"><rect x="2.3" y="2.4" width="18.6" height="18.4" rx="3"/><line x1="2.3" y1="8.6" x2="20.9" y2="8.6"/><line x1="8.6" y1="8.6" x2="8.6" y2="20.8"/></svg>
<span class="t" id="colsv" style="left:2925.5px;top:1025px;width:0;height:0;overflow:visible;"><span id="colsi" style="position:absolute;left:0;top:0;display:block;transform-origin:0 0;transform:translate(18.5px,0) rotate(90deg);font-size:19.2px;line-height:19.2px;color:#181d1f;letter-spacing:0.55px;">Columns</span></span>
<div style="left:445.00px;top:1130.00px;width:2468.00px;height:1.00px;background:#dcdcdc;"></div>
<div style="left:458.30px;top:1090.10px;width:24.60px;height:24.60px;border-radius:5.5px;border:1.3px solid #b8b8b8;background:#fff;"></div>
<span id="t89" class="t " style="left:556.09px;top:1094.00px;font-size:19.6px;line-height:19.6px;color:#181d1f;letter-spacing:0.433px;-webkit-text-stroke:0.22px #181d1f;">Iberdrola</span>
<span id="t90" class="t " style="left:1001.86px;top:1094.00px;font-size:19.6px;line-height:19.6px;color:#181d1f;letter-spacing:0.508px;-webkit-text-stroke:0.22px #181d1f;">XS2648498371</span>
<span id="t91" class="t " style="left:1363.30px;top:1094.00px;font-size:19.6px;line-height:19.6px;color:#3aa045;font-weight:700;letter-spacing:0.120px;">Green</span>
<span id="t92" class="t " style="left:1523.18px;top:1094.00px;font-size:19.6px;line-height:19.6px;color:#181d1f;letter-spacing:0.787px;-webkit-text-stroke:0.22px #181d1f;">992,549,925</span>
<span class="t" style="left:1736.91px;top:1094.00px;font-family:'DejaVu Sans';font-size:19.76px;line-height:19.76px;color:#d0d0d0;">✗</span>
<span id="t93" class="t " style="left:2019.50px;top:1094.00px;font-size:19.6px;line-height:19.6px;color:#181d1f;letter-spacing:0.547px;-webkit-text-stroke:0.22px #181d1f;">766.9</span>
<span class="t" style="left:2459.19px;top:1090.00px;font-family:'DejaVu Sans';font-size:25.94px;line-height:25.94px;color:#111;">✔</span>
<span class="t" style="left:2712.51px;top:1094.00px;font-family:'DejaVu Sans';font-size:19.76px;line-height:19.76px;color:#d0d0d0;">✗</span>
<div style="left:445.00px;top:1131.00px;width:2468.00px;height:55.50px;background:#f8f8f8;"></div>
<div style="left:445.00px;top:1186.00px;width:2468.00px;height:1.00px;background:#dcdcdc;"></div>
<div style="left:458.30px;top:1146.10px;width:24.60px;height:24.60px;border-radius:5.5px;border:1.3px solid #b8b8b8;background:#fff;"></div>
<span id="t94" class="t " style="left:556.29px;top:1150.00px;font-size:19.6px;line-height:19.6px;color:#181d1f;letter-spacing:0.364px;-webkit-text-stroke:0.22px #181d1f;">Energias de Portugal</span>
<span id="t95" class="t " style="left:1001.86px;top:1150.00px;font-size:19.6px;line-height:19.6px;color:#181d1f;letter-spacing:0.361px;-webkit-text-stroke:0.22px #181d1f;">XS2532478190, US26835PAJ93</span>
<span id="t96" class="t " style="left:1363.30px;top:1150.00px;font-size:19.6px;line-height:19.6px;color:#3aa045;font-weight:700;letter-spacing:0.120px;">Green</span>
<span id="t97" class="t " style="left:1523.32px;top:1150.00px;font-size:19.6px;line-height:19.6px;color:#181d1f;letter-spacing:0.868px;-webkit-text-stroke:0.22px #181d1f;">500,000,000</span>
<span class="t" style="left:1736.91px;top:1150.00px;font-family:'DejaVu Sans';font-size:19.76px;line-height:19.76px;color:#d0d0d0;">✗</span>
<span id="t98" class="t " style="left:2019.50px;top:1150.00px;font-size:19.6px;line-height:19.6px;color:#181d1f;letter-spacing:0.530px;-webkit-text-stroke:0.22px #181d1f;">709.3</span>
<span class="t" style="left:2459.19px;top:1146.00px;font-family:'DejaVu Sans';font-size:25.94px;line-height:25.94px;color:#111;">✔</span>
<span class="t" style="left:2712.51px;top:1150.00px;font-family:'DejaVu Sans';font-size:19.76px;line-height:19.76px;color:#d0d0d0;">✗</span>
<div style="left:445.00px;top:1242.00px;width:2468.00px;height:1.00px;background:#dcdcdc;"></div>
<div style="left:458.30px;top:1202.10px;width:24.60px;height:24.60px;border-radius:5.5px;border:1.3px solid #b8b8b8;background:#fff;"></div>
<span id="t99" class="t " style="left:556.97px;top:1206.00px;font-size:19.6px;line-height:19.6px;color:#181d1f;letter-spacing:0.636px;-webkit-text-stroke:0.22px #181d1f;">Orsted</span>
<span id="t100" class="t " style="left:1001.86px;top:1206.00px;font-size:19.6px;line-height:19.6px;color:#181d1f;letter-spacing:0.314px;-webkit-text-stroke:0.22px #181d1f;">XS2531569965</span>
<span id="t101" class="t " style="left:1363.30px;top:1206.00px;font-size:19.6px;line-height:19.6px;color:#3aa045;font-weight:700;letter-spacing:0.120px;">Green</span>
<span id="t102" class="t " style="left:1522.61px;top:1206.00px;font-size:19.6px;line-height:19.6px;color:#181d1f;letter-spacing:0.017px;-webkit-text-stroke:0.22px #181d1f;">1,050,935,215</span>
<span class="t" style="left:1736.91px;top:1206.00px;font-family:'DejaVu Sans';font-size:19.76px;line-height:19.76px;color:#d0d0d0;">✗</span>
<span id="t103" class="t " style="left:2019.72px;top:1206.00px;font-size:19.6px;line-height:19.6px;color:#181d1f;letter-spacing:-0.222px;-webkit-text-stroke:0.22px #181d1f;">514.4</span>
<span class="t" style="left:2459.19px;top:1202.00px;font-family:'DejaVu Sans';font-size:25.94px;line-height:25.94px;color:#111;">✔</span>
<span class="t" style="left:2712.51px;top:1206.00px;font-family:'DejaVu Sans';font-size:19.76px;line-height:19.76px;color:#d0d0d0;">✗</span>
<div style="left:445.00px;top:1243.00px;width:2468.00px;height:55.50px;background:#f8f8f8;"></div>
<div style="left:445.00px;top:1298.00px;width:2468.00px;height:1.00px;background:#dcdcdc;"></div>
<div style="left:458.30px;top:1258.10px;width:24.60px;height:24.60px;border-radius:5.5px;border:1.3px solid #b8b8b8;background:#fff;"></div>
<span id="t104" class="t " style="left:556.29px;top:1262.00px;font-size:19.6px;line-height:19.6px;color:#181d1f;letter-spacing:0.312px;-webkit-text-stroke:0.22px #181d1f;">National Australia Bank (NAB)</span>
<span id="t105" class="t " style="left:1001.86px;top:1262.00px;font-size:19.6px;line-height:19.6px;color:#181d1f;letter-spacing:0.420px;-webkit-text-stroke:0.22px #181d1f;">XS2888621922</span>
<span id="t106" class="t " style="left:1363.30px;top:1262.00px;font-size:19.6px;line-height:19.6px;color:#3aa045;font-weight:700;letter-spacing:0.120px;">Green</span>
<span id="t107" class="t " style="left:1522.61px;top:1262.00px;font-size:19.6px;line-height:19.6px;color:#181d1f;letter-spacing:0.520px;-webkit-text-stroke:0.22px #181d1f;">1,459,632,243</span>
<span class="t" style="left:1737.79px;top:1258.00px;font-family:'DejaVu Sans';font-size:25.94px;line-height:25.94px;color:#111;">✔</span>
<span id="t108" class="t " style="left:2020.05px;top:1262.00px;font-size:19.6px;line-height:19.6px;color:#181d1f;letter-spacing:0.797px;-webkit-text-stroke:0.22px #181d1f;">439.2</span>
<span class="t" style="left:2459.19px;top:1258.00px;font-family:'DejaVu Sans';font-size:25.94px;line-height:25.94px;color:#111;">✔</span>
<span class="t" style="left:2713.49px;top:1258.00px;font-family:'DejaVu Sans';font-size:25.94px;line-height:25.94px;color:#111;">✔</span>
<div style="left:445.00px;top:1354.00px;width:2468.00px;height:1.00px;background:#dcdcdc;"></div>
<div style="left:458.30px;top:1314.10px;width:24.60px;height:24.60px;border-radius:5.5px;border:1.3px solid #b8b8b8;background:#fff;"></div>
<span id="t109" class="t " style="left:557.81px;top:1318.00px;font-size:19.6px;line-height:19.6px;color:#181d1f;letter-spacing:0.527px;-webkit-text-stroke:0.22px #181d1f;">Vattenfall</span>
<span id="t110" class="t " style="left:1001.86px;top:1318.00px;font-size:19.6px;line-height:19.6px;color:#181d1f;letter-spacing:0.655px;-webkit-text-stroke:0.22px #181d1f;">XS2297882644</span>
<span id="t111" class="t " style="left:1363.30px;top:1318.00px;font-size:19.6px;line-height:19.6px;color:#3aa045;font-weight:700;letter-spacing:0.120px;">Green</span>
<span id="t112" class="t " style="left:1523.32px;top:1318.00px;font-size:19.6px;line-height:19.6px;color:#181d1f;letter-spacing:0.590px;-webkit-text-stroke:0.22px #181d1f;">583,852,897</span>
<span class="t" style="left:1736.91px;top:1318.00px;font-family:'DejaVu Sans';font-size:19.76px;line-height:19.76px;color:#d0d0d0;">✗</span>
<span id="t113" class="t " style="left:2019.75px;top:1318.00px;font-size:19.6px;line-height:19.6px;color:#181d1f;letter-spacing:-0.184px;-webkit-text-stroke:0.22px #181d1f;">397.0</span>
<span class="t" style="left:2459.19px;top:1314.00px;font-family:'DejaVu Sans';font-size:25.94px;line-height:25.94px;color:#111;">✔</span>
<span class="t" style="left:2712.51px;top:1318.00px;font-family:'DejaVu Sans';font-size:19.76px;line-height:19.76px;color:#d0d0d0;">✗</span>
<div style="left:445.00px;top:1355.00px;width:2468.00px;height:55.50px;background:#f8f8f8;"></div>
<div style="left:445.00px;top:1410.00px;width:2468.00px;height:1.00px;background:#dcdcdc;"></div>
<div style="left:458.30px;top:1370.10px;width:24.60px;height:24.60px;border-radius:5.5px;border:1.3px solid #b8b8b8;background:#fff;"></div>
<span id="t114" class="t " style="left:556.29px;top:1374.00px;font-size:19.6px;line-height:19.6px;color:#181d1f;letter-spacing:0.357px;-webkit-text-stroke:0.22px #181d1f;">Banco de Sabadell</span>
<span id="t115" class="t " style="left:1001.86px;top:1374.00px;font-size:19.6px;line-height:19.6px;color:#181d1f;letter-spacing:0.329px;-webkit-text-stroke:0.22px #181d1f;">XS2553801502</span>
<span id="t116" class="t " style="left:1363.30px;top:1374.00px;font-size:19.6px;line-height:19.6px;color:#3aa045;font-weight:700;letter-spacing:0.120px;">Green</span>
<span id="t117" class="t " style="left:1523.25px;top:1374.00px;font-size:19.6px;line-height:19.6px;color:#181d1f;letter-spacing:0.484px;-webkit-text-stroke:0.22px #181d1f;">875,779,346</span>
<span class="t" style="left:1737.79px;top:1370.00px;font-family:'DejaVu Sans';font-size:25.94px;line-height:25.94px;color:#111;">✔</span>
<span id="t118" class="t " style="left:2019.75px;top:1374.00px;font-size:19.6px;line-height:19.6px;color:#181d1f;letter-spacing:0.691px;-webkit-text-stroke:0.22px #181d1f;">383.0</span>
<span class="t" style="left:2459.19px;top:1370.00px;font-family:'DejaVu Sans';font-size:25.94px;line-height:25.94px;color:#111;">✔</span>
<span class="t" style="left:2712.51px;top:1374.00px;font-family:'DejaVu Sans';font-size:19.76px;line-height:19.76px;color:#d0d0d0;">✗</span>
<div style="left:458.30px;top:1426.10px;width:24.60px;height:24.60px;border-radius:5.5px;border:1.3px solid #b8b8b8;background:#fff;"></div>
</div></body></html>
